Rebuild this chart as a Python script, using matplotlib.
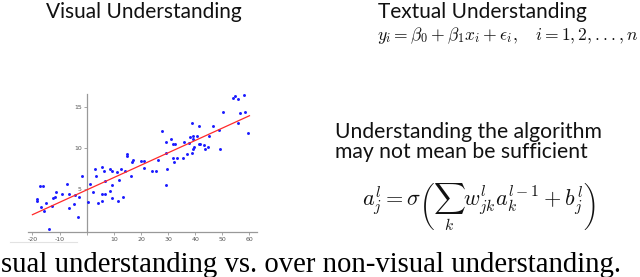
import matplotlib.pyplot as plt
import numpy as np

# scatter data
x_pts = [-18.4, -18.2, -17.2, -16.0, -17.0, -15.8, -15.0, -14.0, -12.9, -12.5,
         -11.5, -11.3, -9.0, -7.4, -6.5, -6.4, -4.7, -4.2, -3.3, -2.8,
         -1.7, 0.6, 1.1, 2.2, 2.9, 3.6, 4.2, 5.7, 5.7, 5.7,
         6.5, 6.6, 6.6, 8.6, 8.6, 9.3, 9.2, 9.3, 11.1, 11.5,
         11.9, 12.5, 13.5, 14.1, 14.9, 15.0, 16.2, 16.6, 17.0, 20.0,
         21.1, 21.3, 24.1, 25.6, 26.2, 27.8, 29.1, 29.1, 29.1, 29.6,
         31.2, 31.7, 31.9, 32.1, 32.7, 33.2, 35.5, 36.0, 37.0, 37.7,
         38.2, 38.7, 38.8, 39.1, 39.1, 39.6, 39.3, 40.8, 41.3, 41.5,
         41.8, 43.2, 43.7, 44.6, 45.2, 46.7, 48.9, 49.1, 50.1, 53.8,
         54.5, 55.9, 56.5, 55.9, 58.0, 58.2, 59.5]
y_pts = [3.5, 3.7, 5.3, 5.3, 2.8, 2.3, 3.2, 0.1, 2.9, 3.9,
         4.0, 4.6, 4.3, 5.6, 2.7, 4.3, 3.1, 4.2, 1.5, 4.0,
         6.5, 3.4, 5.6, 4.6, 7.4, 6.5, 3.3, 7.6, 4.4, 3.5,
         7.1, 4.3, 6.0, 7.4, 4.7, 7.2, 5.4, 3.9, 7.0, 3.5,
         6.1, 7.4, 4.0, 7.1, 9.2, 9.0, 6.6, 8.2, 8.5, 8.4,
         8.4, 7.5, 7.2, 7.2, 8.5, 12.0, 10.7, 5.4, 9.3, 7.4,
         11.1, 10.4, 8.7, 8.2, 10.4, 8.7, 8.8, 10.7, 9.2, 10.6,
         11.3, 13.0, 9.4, 11.4, 9.8, 10.1, 11.1, 11.4, 10.5, 12.6,
         10.4, 10.3, 9.9, 10.1, 11.4, 12.7, 12.1, 9.9, 14.3, 16.0,
         16.3, 15.9, 14.2, 13.0, 16.4, 14.3, 11.8]

# fitted line
fit_x = [-20, 60]
fit_y = [1.83, 13.9]

x_ticks = [-20, -10, 0, 10, 20, 30, 40, 50, 60]
x_tick_labels = ['-20', '-10', '', '10', '20', '30', '40', '50', '60']
y_ticks = [5, 10, 15]

W, H = 640, 277

def fx(px):
    return px / W

def fy(py):
    return 1 - py / H

plt.rcParams['mathtext.fontset'] = 'cm'
fig = plt.figure(figsize=(6.4, 2.77), dpi=100)

# scatter plot panel
ax = fig.add_axes([fx(27.0), fy(237.9), fx(230.6), 147.6 / H])
ax.set_xlim(-22, 63)
ax.set_ylim(-1, 17)
ax.scatter(x_pts, y_pts, s=4.5, color='#1a1aff', linewidths=0, zorder=3)
ax.plot(fit_x, fit_y, color='#ff2a2a', linewidth=0.9, zorder=4)

for side in ['top', 'right']:
    ax.spines[side].set_visible(False)
ax.spines['left'].set_position(('data', 0))
ax.spines['bottom'].set_position(('data', -0.25))
ax.spines['left'].set_bounds(-0.25, 16.6)
ax.spines['bottom'].set_bounds(-21.5, 62.7)
for side in ['left', 'bottom']:
    ax.spines[side].set_color('#999999')
    ax.spines[side].set_linewidth(0.9)

ax.set_xticks(x_ticks)
ax.set_xticklabels(x_tick_labels)
ax.set_yticks(y_ticks)
ax.tick_params(axis='both', labelsize=4.5, labelcolor='#555555', color='#999999',
               length=2, width=0.6, pad=1.5)
ax.patch.set_visible(False)

# faint leftover line under the plot
fig.add_artist(plt.Line2D([fx(10), fx(77)], [fy(242), fy(242)],
                          color='#e2e2e2', linewidth=0.8))

# headings
fig.text(fx(144), fy(18), 'Visual Understanding', family='Lato', fontsize=15,
         ha='center', va='baseline', color='#111111')
fig.text(fx(482), fy(18), 'Textual Understanding', family='Lato', fontsize=15,
         ha='center', va='baseline', color='#111111')

fig.text(fx(377), fy(40), r'$y_i = \beta_0 + \beta_1 x_i + \epsilon_i, \quad i = 1, 2, ..., n$',
         fontsize=12.6, ha='left', va='baseline', color='#111111')

fig.text(fx(335), fy(138), 'Understanding the algorithm',
         family='Lato', fontsize=15.2, ha='left', va='baseline', color='#111111')
fig.text(fx(335), fy(158), 'may not mean be sufficient',
         family='Lato', fontsize=15.2, ha='left', va='baseline', color='#111111')

fig.text(fx(362), fy(207), r'$a^l_j = \sigma\left(\sum_k w^l_{jk} a^{l-1}_k + b^l_j\right)$',
         fontsize=16, ha='left', va='center', color='#111111')

# caption cut at the left edge
fig.text(fx(1), fy(271.7), 'sual understanding vs. over non-visual understanding.',
         family='Liberation Serif', fontsize=20.7, ha='left', va='baseline', color='#000000')

fig.savefig('out.png', dpi=100)
